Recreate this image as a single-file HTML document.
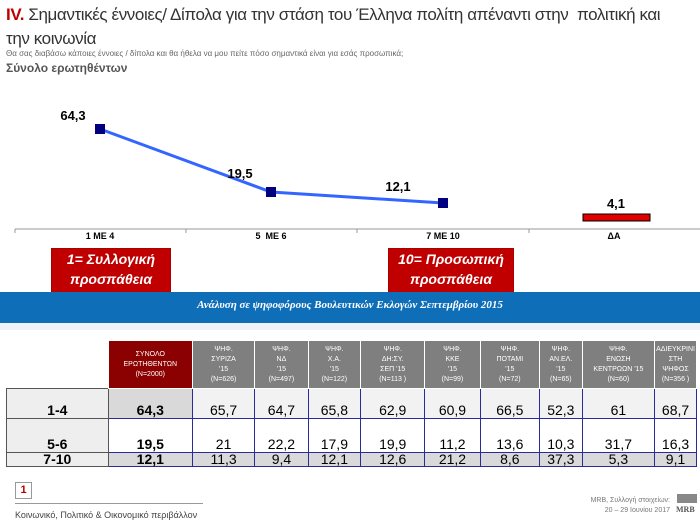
<!DOCTYPE html>
<html><head><meta charset="utf-8"><style>
body{margin:0;width:700px;height:525px;background:#fff;font-family:"Liberation Sans",sans-serif;position:relative;overflow:hidden}
.a{position:absolute}
.c{text-align:center}
.red{background:#c00000;color:#fff;font-style:italic;font-weight:bold;font-size:14px;line-height:20px;text-align:center;border:1px solid #a00}
td{border:1px solid #2a2a9a;text-align:center;font-size:14px;padding:0;vertical-align:bottom}
th{font-size:7px;color:#fff;font-weight:normal;background:#7f7f7f;border:1px solid #fff;line-height:10px}
</style></head><body>
<div class="a" style="left:6px;top:3px;font-size:17px;color:#333;line-height:24px;width:694px;letter-spacing:-0.4px;white-space:nowrap"><span style="color:#c00000;font-weight:bold">IV.</span> Σημαντικές έννοιες/ Δίπολα για την στάση του Έλληνα πολίτη απέναντι στην&nbsp; πολιτική και<br>την κοινωνία</div>
<div class="a" style="left:6px;top:49px;font-size:8px;color:#666">Θα σας διαβάσω κάποιες έννοιες / δίπολα και θα ήθελα να μου πείτε πόσο σημαντικά είναι για εσάς προσωπικά;</div>
<div class="a" style="left:6px;top:61px;font-size:12px;color:#555;font-weight:bold">Σύνολο ερωτηθέντων</div>
<svg class="a" style="left:0;top:0" width="700" height="330">
<line x1="15" y1="229" x2="700" y2="229" stroke="#999"/>
<g stroke="#999"><line x1="15" y1="229" x2="15" y2="233"/><line x1="186" y1="229" x2="186" y2="233"/><line x1="357" y1="229" x2="357" y2="233"/><line x1="529" y1="229" x2="529" y2="233"/></g>
<polyline points="100,129 271,192 443,203" fill="none" stroke="#3366ff" stroke-width="3"/>
<g fill="#000080"><rect x="95" y="124" width="10" height="10"/><rect x="266" y="187" width="10" height="10"/><rect x="438" y="198" width="10" height="10"/></g>
<rect x="583" y="214" width="67" height="7" fill="#e00000" stroke="#000"/>
<g font-size="13" font-weight="bold" text-anchor="middle" fill="#000">
<text x="73" y="120">64,3</text><text x="240" y="178">19,5</text><text x="398" y="191">12,1</text><text x="616" y="208">4,1</text></g>
<g font-size="9" font-weight="bold" text-anchor="middle" fill="#000">
<text x="100" y="239">1 ME 4</text><text x="271" y="239">5&#160; ME 6</text><text x="443" y="239">7 ME 10</text><text x="614" y="239">ΔΑ</text></g>
</svg>
<div class="a red" style="left:51px;top:248px;width:118px;height:44px">1= Συλλογική<br>προσπάθεια</div>
<div class="a red" style="left:388px;top:248px;width:124px;height:44px">10= Προσωπική<br>προσπάθεια</div>
<div class="a c" style="left:0;top:292px;width:700px;height:31px;background:#0e6fb8;color:#fff;font-family:'Liberation Serif',serif;font-weight:bold;font-style:italic;font-size:11px;line-height:26px">Ανάλυση σε ψηφοφόρους Βουλευτικών Εκλογών Σεπτεμβρίου 2015</div>
<div class="a" style="left:0;top:323px;width:700px;height:7px;background:#eef3f8"></div>
<table class="a" style="left:6px;top:340px;border-collapse:collapse;width:691px">
<tr style="height:48px"><th style="width:101px;background:#fff;border:none"></th>
<th style="width:82px;background:#8b0000">ΣΥΝΟΛΟ<br>ΕΡΩΤΗΘΕΝΤΩΝ<br>(N=2000)</th>
<th style="width:60px">ΨΗΦ.<br>ΣΥΡΙΖΑ<br>'15<br>(N=626)</th>
<th style="width:51px">ΨΗΦ.<br>ΝΔ<br>'15<br>(N=497)</th>
<th style="width:50px">ΨΗΦ.<br>Χ.Α.<br>'15<br>(N=122)</th>
<th style="width:62px">ΨΗΦ.<br>ΔΗ:ΣΥ.<br>ΣΕΠ '15<br>(N=113 )</th>
<th style="width:53px">ΨΗΦ.<br>ΚΚΕ<br>'15<br>(N=99)</th>
<th style="width:57px">ΨΗΦ.<br>ΠΟΤΑΜΙ<br>'15<br>(N=72)</th>
<th style="width:40px">ΨΗΦ.<br>ΑΝ.ΕΛ.<br>'15<br>(N=65)</th>
<th style="width:70px">ΨΗΦ.<br>ΕΝΩΣΗ<br>ΚΕΝΤΡΩΩΝ '15<br>(N=60)</th>
<th>ΑΔΙΕΥΚΡΙΝΙ<br>ΣΤΗ<br>ΨΗΦΟΣ<br>(N=356 )</th></tr>
<tr style="height:30px;background:#f2f2f2"><td style="border-color:#555;background:#eee;font-weight:bold">1-4</td><td style="background:#d9d9d9;font-weight:bold">64,3</td><td>65,7</td><td>64,7</td><td>65,8</td><td>62,9</td><td>60,9</td><td>66,5</td><td>52,3</td><td>61</td><td>68,7</td></tr>
<tr style="height:34px"><td style="border-color:#555;background:#eee;font-weight:bold">5-6</td><td style="font-weight:bold">19,5</td><td>21</td><td>22,2</td><td>17,9</td><td>19,9</td><td>11,2</td><td>13,6</td><td>10,3</td><td>31,7</td><td>16,3</td></tr>
<tr style="height:13px;background:#d9d9d9;line-height:13px"><td style="border-color:#555;background:#eee;font-weight:bold">7-10</td><td style="font-weight:bold">12,1</td><td>11,3</td><td>9,4</td><td>12,1</td><td>12,6</td><td>21,2</td><td>8,6</td><td>37,3</td><td>5,3</td><td>9,1</td></tr>
</table>
<div class="a c" style="left:15px;top:482px;width:15px;height:15px;border:1px solid #999;color:#c00000;font-weight:bold;font-size:11px;line-height:15px">1</div>
<div class="a" style="left:15px;top:503px;width:188px;border-top:1px solid #999"></div>
<div class="a" style="left:15px;top:510px;font-size:9px;color:#444">Κοινωνικό, Πολιτικό &amp; Οικονομικό περιβάλλον</div>
<div class="a" style="left:560px;top:496px;font-size:7px;color:#777;text-align:right;width:110px;line-height:10px">MRB, Συλλογή στοιχείων:<br>20 – 29 Ιουνίου 2017</div>
<div class="a" style="left:677px;top:494px;width:20px;height:9px;background:#888"></div>
<div class="a" style="left:676px;top:505px;font-size:8px;font-weight:bold;color:#555;font-family:'Liberation Serif',serif">MRB</div>
</body></html>
